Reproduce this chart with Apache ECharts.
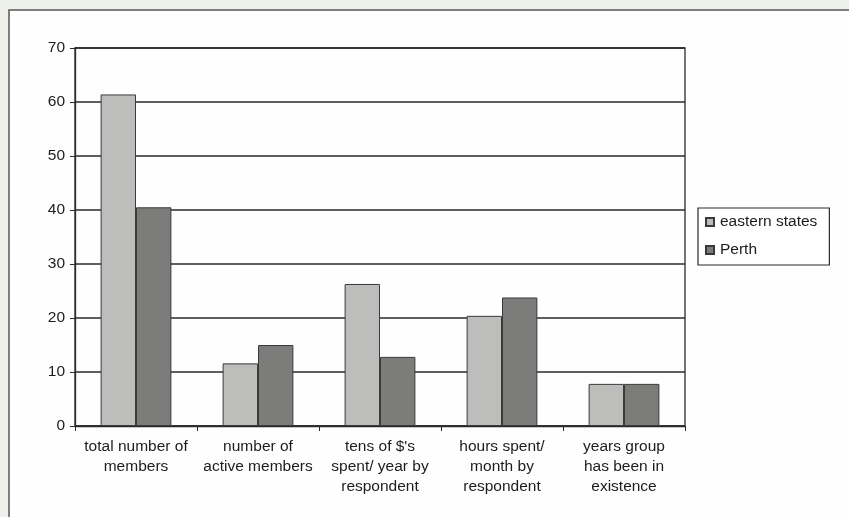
<!DOCTYPE html>
<html>
<head>
<meta charset="utf-8">
<script src="https://cdn.jsdelivr.net/npm/echarts@6/dist/echarts.min.js"></script>
<style>
  html, body { margin: 0; padding: 0; background: #eef0ec; }
  #chart { width: 849px; height: 517px; }
</style>
</head>
<body>
<div id="chart"></div>
<script>
// Survey comparison: eastern states vs Perth groups
const categories = [
  'total number of\nmembers',
  'number of\nactive members',
  "tens of $'s\nspent/ year by\nrespondent",
  'hours spent/\nmonth by\nrespondent',
  'years group\nhas been in\nexistence'
];
const easternStates = [61.4, 11.6, 26.3, 20.4, 7.8];
const perth = [40.5, 15.0, 12.8, 23.8, 7.8];
const yTicks = { min: 0, max: 70, interval: 10 };

const chart = echarts.init(document.getElementById('chart'), null, { renderer: 'canvas' });

const fontFamily = 'Liberation Sans, Arial, sans-serif';
const textColor = '#1c1c1c';

chart.setOption({
  backgroundColor: '#eef0ec',
  animation: false,
  textStyle: { fontFamily: fontFamily, fontSize: 15.5, color: textColor },
  graphic: [
    {
      type: 'rect',
      z: -10,
      shape: { x: 9, y: 10, width: 860, height: 530 },
      style: { fill: '#fefefe', stroke: '#555', lineWidth: 1.5 }
    }
  ],
  grid: {
    left: 75, right: 164, top: 48, bottom: 91,
    show: true, borderColor: '#2a2a2a', borderWidth: 1.3, backgroundColor: 'transparent'
  },
  legend: {
    orient: 'vertical',
    left: 698, top: 208,
    padding: [6, 12, 7, 7],
    itemWidth: 8, itemHeight: 8, itemGap: 12,
    borderColor: '#2a2a2a', borderWidth: 1.2,
    backgroundColor: '#fff',
    icon: 'rect',
    textStyle: { fontFamily: fontFamily, fontSize: 15.5, color: textColor, padding: [0, 0, 0, 1] },
    data: ['eastern states', 'Perth']
  },
  xAxis: {
    type: 'category',
    data: categories,
    axisLine: { lineStyle: { color: '#2a2a2a', width: 1.3 } },
    axisTick: { show: true, alignWithLabel: false, length: 5, lineStyle: { color: '#2a2a2a' } },
    axisLabel: { color: textColor, fontSize: 15.5, lineHeight: 20, margin: 11, interval: 0 }
  },
  yAxis: {
    type: 'value',
    min: yTicks.min, max: yTicks.max, interval: yTicks.interval,
    axisLine: { show: true, lineStyle: { color: '#2a2a2a', width: 1.3 } },
    axisTick: { show: true, inside: false, length: 5, lineStyle: { color: '#2a2a2a' } },
    axisLabel: { color: textColor, fontSize: 15.5, margin: 10 },
    splitLine: { show: true, lineStyle: { color: '#2a2a2a', width: 1.5 } }
  },
  series: [
    {
      name: 'eastern states',
      type: 'bar',
      data: easternStates,
      barGap: '0%',
      barCategoryGap: '42%',
      itemStyle: { color: '#bdbdbb', borderColor: '#3a3a3a', borderWidth: 1 }
    },
    {
      name: 'Perth',
      type: 'bar',
      data: perth,
      itemStyle: { color: '#7c7c7a', borderColor: '#3a3a3a', borderWidth: 1 }
    }
  ]
});
</script>
</body>
</html>
